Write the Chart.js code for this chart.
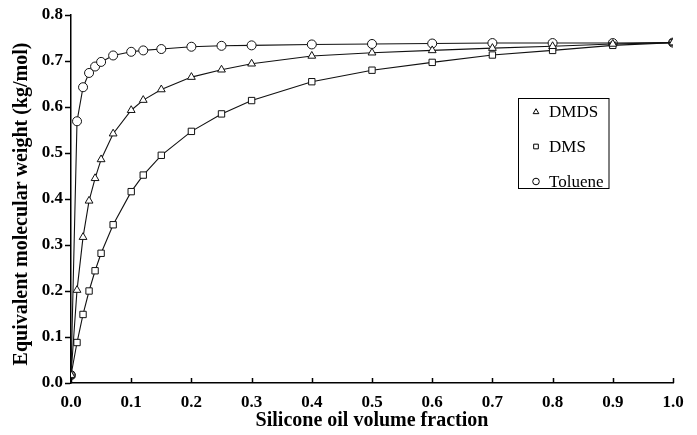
<!DOCTYPE html>
<html>
<head>
<meta charset="utf-8">
<script src="https://cdn.jsdelivr.net/npm/chart.js@4.4.0/dist/chart.umd.min.js"></script>
<style>
html,body{margin:0;padding:0;background:#fff;}
#wrap{position:relative;width:697px;height:435px;}
</style>
</head>
<body>
<div id="wrap"><canvas id="c" width="697" height="435"></canvas></div>
<script>
const fractions = [0, 0.01, 0.02, 0.03, 0.04, 0.05, 0.07, 0.1, 0.12, 0.15, 0.2, 0.25, 0.3, 0.4, 0.5, 0.6, 0.7, 0.8, 0.9, 1.0];
const dmds    = [0.017, 0.202, 0.317, 0.396, 0.445, 0.486, 0.542, 0.593, 0.615, 0.638, 0.665, 0.681, 0.694, 0.711, 0.718, 0.723, 0.728, 0.732, 0.737, 0.740];
const dms     = [0.017, 0.088, 0.149, 0.200, 0.244, 0.282, 0.344, 0.416, 0.452, 0.495, 0.547, 0.585, 0.614, 0.655, 0.680, 0.697, 0.713, 0.723, 0.734, 0.740];
const toluene = [0.017, 0.569, 0.643, 0.674, 0.688, 0.698, 0.712, 0.720, 0.723, 0.726, 0.731, 0.733, 0.734, 0.736, 0.737, 0.738, 0.739, 0.739, 0.739, 0.740];
const seriesNames = ['DMDS', 'DMS', 'Toluene'];
const xTitle = 'Silicone oil volume fraction';
const yTitle = 'Equivalent molecular weight (kg/mol)';

const toPts = arr => fractions.map((x, i) => ({x: x, y: arr[i]}));
const styles = ['triangle', 'rect', 'circle'];
const seriesVals = [dmds, dms, toluene];

const datasets = seriesVals.map((arr, i) => ({
  label: seriesNames[i],
  data: toPts(arr),
  borderColor: '#111',
  borderWidth: 1.1,
  backgroundColor: '#fff',
  pointStyle: styles[i],
  pointRadius: 4.5,
  pointBorderWidth: 1,
  pointBorderColor: '#111',
  pointBackgroundColor: '#fff',
  tension: 0
}));

const serif = '"Liberation Serif", "Times New Roman", serif';

const legendPlugin = {
  id: 'boxLegend',
  afterDatasetsDraw(chart) {
    const ctx = chart.ctx;
    const x0 = 518.5, y0 = 98.5, w = 90.5, h = 90;
    ctx.save();
    ctx.fillStyle = '#fff';
    ctx.fillRect(x0, y0, w, h);
    ctx.strokeStyle = '#000';
    ctx.lineWidth = 1;
    ctx.strokeRect(x0, y0, w, h);
    const rows = [112, 146.5, 181.5];
    ctx.font = '17px ' + serif;
    ctx.textBaseline = 'middle';
    seriesNames.forEach((n, i) => {
      ctx.fillStyle = '#fff';
      ctx.strokeStyle = '#000';
      Chart.helpers.drawPoint(ctx, {pointStyle: styles[i], radius: 3.3, borderWidth: 1, rotation: 0}, 536, rows[i]);
      ctx.fillStyle = '#000';
      ctx.fillText(n, 549, rows[i] + 1);
    });
    ctx.restore();
  }
};

const axisExtrasPlugin = {
  id: 'axisExtras',
  afterDraw(chart) {
    const xs = chart.scales.x, ys = chart.scales.y;
    const ctx = chart.ctx;
    ctx.save();
    ctx.strokeStyle = '#000';
    ctx.lineWidth = 1.5;
    xs.ticks.forEach(t => {
      const px = Math.round(xs.getPixelForValue(t.value)) + 0.5;
      ctx.beginPath();
      ctx.moveTo(px, ys.bottom);
      ctx.lineTo(px, ys.bottom - 5);
      ctx.stroke();
    });
    // y-axis title, rotated
    ctx.translate(22, (ys.top + ys.bottom) / 2 + 5);
    ctx.rotate(-Math.PI / 2);
    ctx.font = 'bold 20px ' + serif;
    ctx.fillStyle = '#000';
    ctx.textAlign = 'center';
    ctx.textBaseline = 'middle';
    ctx.fillText(yTitle, 0, 0);
    ctx.restore();
  }
};

new Chart(document.getElementById('c'), {
  type: 'line',
  data: { datasets: datasets },
  options: {
    responsive: false,
    animation: false,
    events: [],
    layout: { padding: { top: 15, right: 24, left: 0, bottom: 0 } },
    plugins: { legend: { display: false }, tooltip: { enabled: false } },
    scales: {
      x: {
        type: 'linear', min: 0, max: 1.0,
        afterFit: s => { s.height = 52; },
        ticks: { stepSize: 0.1, color: '#000', padding: 9, maxRotation: 0,
          font: { family: serif, size: 17, weight: 'bold' },
          callback: v => Number(v).toFixed(1) },
        grid: { display: false, drawTicks: false },
        border: { display: true, color: '#000', width: 1.5 },
        title: { display: true, text: xTitle, color: '#000', padding: { top: 0, bottom: 2 },
          font: { family: serif, size: 20, weight: 'bold' } }
      },
      y: {
        min: 0, max: 0.8,
        afterFit: s => { s.width = 71; },
        ticks: { stepSize: 0.1, color: '#000', padding: 2,
          font: { family: serif, size: 17, weight: 'bold' },
          callback: v => Number(v).toFixed(1) },
        grid: { drawOnChartArea: false, drawTicks: true, tickLength: 6, color: '#000', tickWidth: 1.5 },
        border: { display: true, color: '#000', width: 1.5 },
        title: { display: false }
      }
    }
  },
  plugins: [legendPlugin, axisExtrasPlugin]
});
</script>
</body>
</html>
